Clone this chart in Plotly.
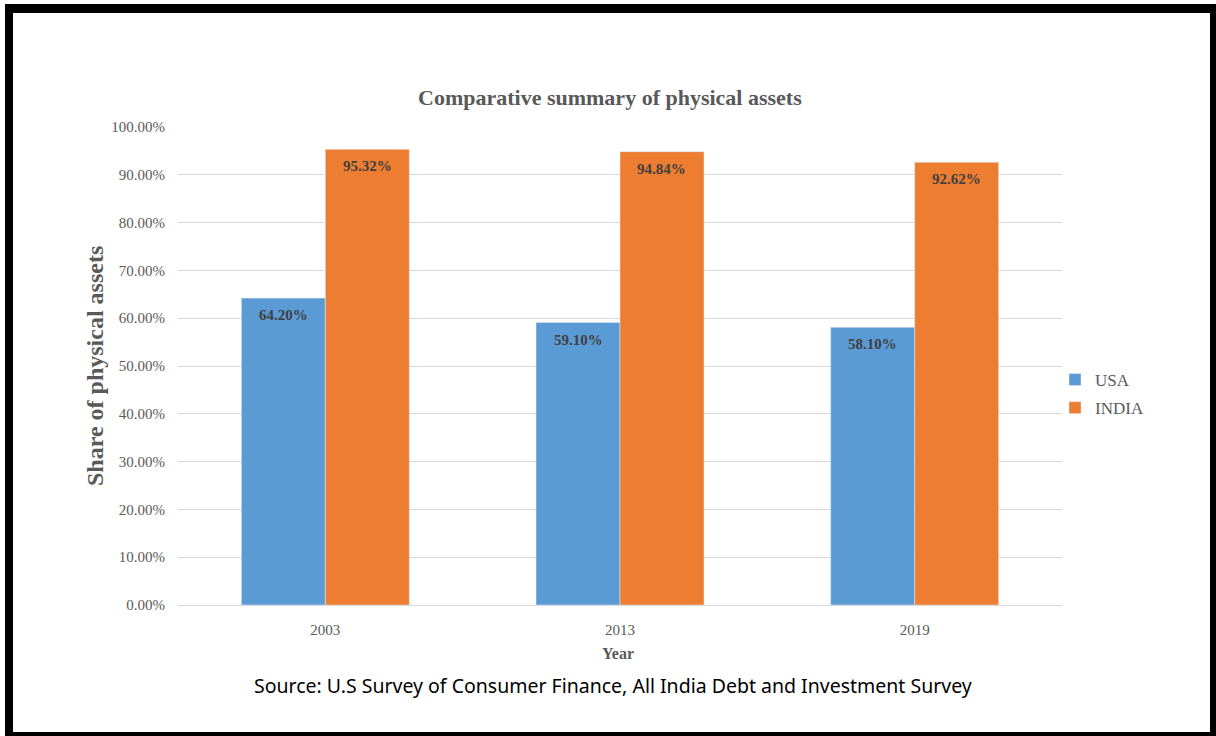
import plotly.graph_objects as go

years = ["2003", "2013", "2019"]
usa = [64.20, 59.10, 58.10]
india = [95.32, 94.84, 92.62]
y_ticks = [0, 10, 20, 30, 40, 50, 60, 70, 80, 90, 100]
y_tick_labels = [f"{v:.2f}%" for v in y_ticks]

W, H = 1216, 736
L, R, T, B = 178, 1062, 127, 605
pw, ph = R - L, B - T

def px(x):
    return (x - L) / pw

def py(y):
    return (B - y) / ph

serif = "Liberation Serif, Times New Roman, serif"
blue = "#5B9BD5"
orange = "#ED7D31"
gray = "#595959"

fig = go.Figure()
fig.add_trace(go.Bar(x=years, y=usa, name="USA", marker_color=blue, legendgroup="a"))
fig.add_trace(go.Bar(x=years, y=india, name="INDIA", marker_color=orange, legendgroup="b"))

bargap = 0.43
bw = (1 - bargap) / 2
annotations = []
for i, (u, n) in enumerate(zip(usa, india)):
    for off, v in ((-bw / 2, u), (bw / 2, n)):
        annotations.append(dict(
            x=i + off, y=v, xref="x", yref="y", text=f"<b>{v:.2f}%</b>",
            showarrow=False, yshift=-17, yanchor="middle",
            font=dict(family=serif, size=15, color="#404040")))

annotations += [
    dict(text="<b>Comparative summary of physical assets</b>", x=px(610), y=py(97),
         xref="paper", yref="paper", showarrow=False, xanchor="center", yanchor="middle",
         font=dict(family=serif, size=22, color=gray)),
    dict(text="<b>Share of physical assets</b>", x=px(95), y=py(366), textangle=-90,
         xref="paper", yref="paper", showarrow=False, xanchor="center", yanchor="middle",
         font=dict(family=serif, size=24, color=gray)),
    dict(text="<b>Year</b>", x=px(618), y=py(653),
         xref="paper", yref="paper", showarrow=False, xanchor="center", yanchor="middle",
         font=dict(family=serif, size=16, color=gray)),
    dict(text="Source: U.S Survey of Consumer Finance, All India Debt and Investment Survey",
         x=px(613), y=py(685), xref="paper", yref="paper", showarrow=False,
         xanchor="center", yanchor="middle",
         font=dict(family="Noto Sans, Open Sans, sans-serif", size=19.5, color="#000000")),
]

fig.update_layout(
    width=W, height=H,
    margin=dict(l=L, r=W - R, t=T, b=H - B, autoexpand=False),
    paper_bgcolor="#FFFFFF",
    plot_bgcolor="rgba(0,0,0,0)",
    barmode="group", bargap=bargap, bargroupgap=0,
    showlegend=True,
    legend=dict(x=px(1055), y=py(394), xanchor="left", yanchor="middle",
                traceorder="grouped", tracegroupgap=3,
                bgcolor="rgba(0,0,0,0)",
                font=dict(family=serif, size=17, color=gray)),
    annotations=annotations,
    shapes=[
        dict(type="rect", xref="paper", yref="paper", layer="below",
             x0=px(5), x1=px(1216), y0=py(4), y1=py(736),
             fillcolor="#000000", line=dict(width=0)),
        dict(type="rect", xref="paper", yref="paper", layer="below",
             x0=px(13), x1=px(1210), y0=py(13), y1=py(732),
             fillcolor="#FFFFFF", line=dict(width=0)),
    ],
    xaxis=dict(type="category", showgrid=False, showline=True, linecolor="#D9D9D9",
               linewidth=1, ticks="", ticklabelstandoff=11,
               tickfont=dict(family=serif, size=15, color=gray)),
    yaxis=dict(range=[0, 100], tickvals=y_ticks, ticktext=y_tick_labels,
               showgrid=True, gridcolor="#D9D9D9", gridwidth=1, zeroline=False,
               showline=False, ticks="", ticklabelstandoff=12,
               tickfont=dict(family=serif, size=15, color=gray)),
    hovermode=False,
)

fig.write_html("out.html", config={"displayModeBar": False},
               post_script="document.body.style.margin='0';document.body.style.overflow='hidden';")
